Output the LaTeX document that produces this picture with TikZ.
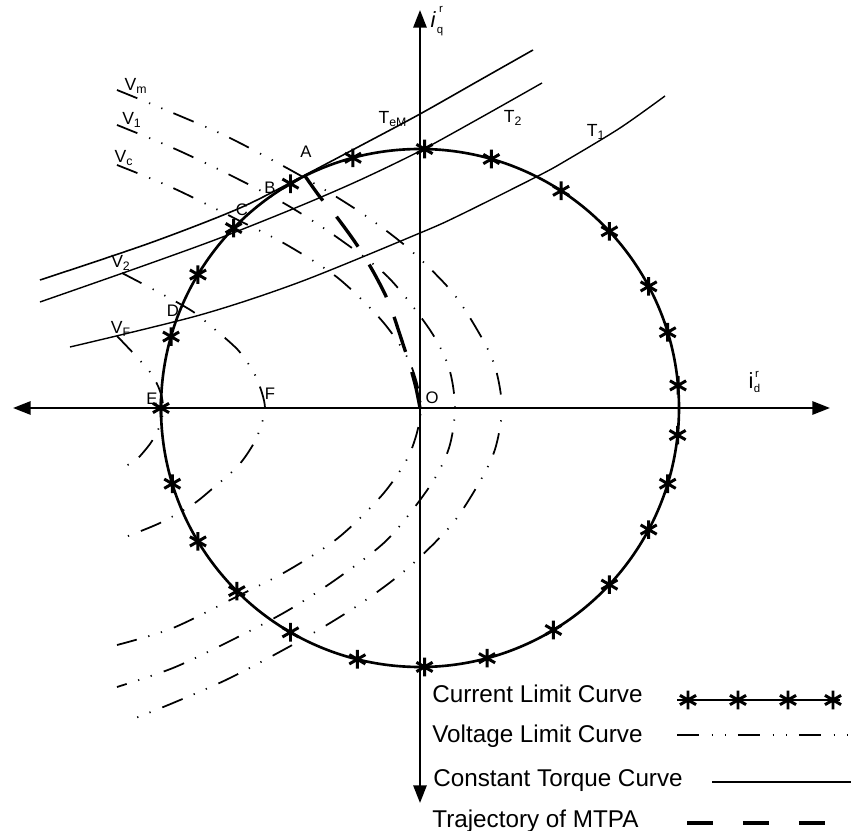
\documentclass[tikz,border=0pt]{standalone}
\usepackage{fontspec}
\setmainfont{Liberation Sans}
\setsansfont{Liberation Sans}
\usepackage{tikz}
\usetikzlibrary{arrows.meta,plotmarks}

\tikzset{
  axis/.style={line width=1.2pt,
    {Triangle[length=10pt,width=7.5pt]}-{Triangle[length=10pt,width=7.5pt]}},
  curlim/.style={line width=1.5pt},
  curstar/.style={line width=1.7pt,mark=asterisk,mark size=5.3pt},
  vlim/.style={line width=1pt,
    dash pattern=on 12.5pt off 7.2pt on 0.7pt off 6.8pt on 0.7pt off 6.8pt},
  torque/.style={line width=0.8pt},
  mtpa/.style={line width=1.9pt,dash pattern=on 21pt off 12pt},
  axlab/.style={font=\fontsize{12.5}{14}\selectfont,inner sep=0pt},
  idx/.style={font=\fontsize{6.5}{7}\selectfont,inner sep=0pt},
  ptlab/.style={font=\fontsize{9.5}{11}\selectfont,inner sep=0pt},
  crvlab/.style={font=\fontsize{10}{12}\selectfont,inner sep=0pt},
  legtext/.style={font=\fontsize{13.8}{16}\selectfont,anchor=base west,inner sep=0pt}
}

\begin{document}
\begin{tikzpicture}[x=0.2mm,y=0.2mm]
  \useasboundingbox (-420,-423) rectangle (431,408);
  % axes
  \draw[axis] (-407,0) -- (410,0);
  \draw[axis] (0,-395) -- (0,398);
  \node[axlab,font=\fontsize{12.5}{14}\selectfont\itshape] (iq) at (13,388) {i};
  \node[idx] (iqr) at (21,399) {r};
  \node[idx] (iqq) at (20,376) {q};
  \node[axlab] (id) at (331,27) {i};
  \node[idx] (idr) at (337,34) {r};
  \node[idx] (idd) at (337,20) {d};
  % voltage limit curves (upper branch, vertex, lower branch)
  \draw[vlim] plot[smooth] coordinates {
    (-303,318) (-247,295) (-190,270) (-117,231) (-60,196) (-12,160)
    (33,115) (63,68) (76,38) (82,0) (76,-38) (63,-68) (33,-115)
    (-12,-160) (-60,-196) (-117,-231) (-190,-270) (-247,-295) (-292,-313)};
  \draw[vlim] plot[smooth] coordinates {
    (-303,283) (-247,260) (-190,233) (-133,203) (-82,170) (-32,131)
    (10,78) (29,40) (35,0) (29,-40) (10,-78) (-32,-131) (-82,-170)
    (-133,-203) (-190,-233) (-247,-260) (-303,-279)};
  \draw[vlim] plot[smooth] coordinates {
    (-303,243) (-247,220) (-180,187) (-133,163) (-82,130) (-37,86)
    (-10,45) (1,0) (-10,-45) (-37,-86) (-82,-130) (-133,-163)
    (-180,-187) (-247,-220) (-303,-237)};
  \draw[vlim] plot[smooth] coordinates {
    (-298,135) (-260,115) (-228,97) (-208,81) (-182,58) (-166,35)
    (-158,15) (-155,0) (-158,-15) (-166,-35) (-182,-58) (-208,-81)
    (-228,-97) (-260,-115) (-297,-130)};
  \draw[vlim] plot[smooth] coordinates {
    (-303,72) (-285,53) (-270,36) (-262,22) (-258,10) (-257,0)
    (-258,-10) (-262,-22) (-270,-36) (-285,-53) (-300,-60)};
  \node[crvlab] (lblVm) at (-284,322) {V\textsubscript{m}};
  \node[crvlab] (lblV1) at (-288,288) {V\textsubscript{1}};
  \node[crvlab] (lblVc) at (-296,250) {V\textsubscript{c}};
  \node[crvlab] (lblV2) at (-299,145) {V\textsubscript{2}};
  \node[crvlab] (lblVF) at (-299,79) {V\textsubscript{F}};
  % constant torque curves
  \draw[torque,line width=0.9pt] plot[smooth] coordinates {
    (-380,128) (-270,165) (-180,200) (-115,233) (-60,262) (0,294)
    (60,328) (113,358)};
  \draw[torque] plot[smooth] coordinates {
    (-380,106) (-280,141) (-200,170) (-120,202) (-60,228) (0,257)
    (60,290) (122,325)};
  \draw[torque] plot[smooth] coordinates {
    (-350,61) (-220,93) (-120,126) (0,175) (40,193) (120,233)
    (147,248) (200,280) (245,312)};
  \node[crvlab] (lblTeM) at (-27,289) {T\textsubscript{eM}};
  \node[crvlab] (lblT2) at (93,290) {T\textsubscript{2}};
  \node[crvlab] (lblT1) at (176,276) {T\textsubscript{1}};
  % trajectory of MTPA, O to A
  \draw[mtpa] plot[smooth] coordinates {
    (0,0) (-4,20) (-10,42) (-19,70) (-31,105) (-46,135) (-63,163)
    (-84,192) (-100,211) (-115,232)};
  % current limit circle
  \draw[curlim] (0,0) circle (259);
  \foreach \a in {89,74,57,43,28,17,5,-6,-17,-28,-43,-59,-75,-89,
                  -104,-120,-135,-149,-163,180,164,149,136,120,105}
    \path[curstar] plot coordinates {(\a:259)};
  % points
  \node[ptlab] (ptA) at (-114,256) {A};
  \node[ptlab] (ptB) at (-150,220) {B};
  \node[ptlab] (ptC) at (-178,198) {C};
  \node[ptlab] (ptD) at (-247,97) {D};
  \node[ptlab] (ptE) at (-268,9) {E};
  \node[ptlab] (ptF) at (-150,14) {F};
  \node[ptlab] (ptO) at (12,10) {O};
  % legend
  \node[legtext] (legI) at (12,-294) {Current Limit Curve};
  \node[legtext] (legV) at (12,-334) {Voltage Limit Curve};
  \node[legtext] (legT) at (13,-379) {Constant Torque Curve};
  \node[legtext] (legM) at (12,-419) {Trajectory of MTPA};
  \draw[line width=0.9pt] (257,-292) -- (420,-292);
  \path[curstar] plot coordinates {(268,-292) (318,-292) (368,-292) (413,-292)};
  \draw[vlim] (257,-327) -- (431,-327);
  \draw[torque] (292,-374) -- (431,-374);
  \draw[mtpa,dash pattern=on 14.8pt off 17pt] (267,-415) -- (431,-415);
\end{tikzpicture}
\end{document}
